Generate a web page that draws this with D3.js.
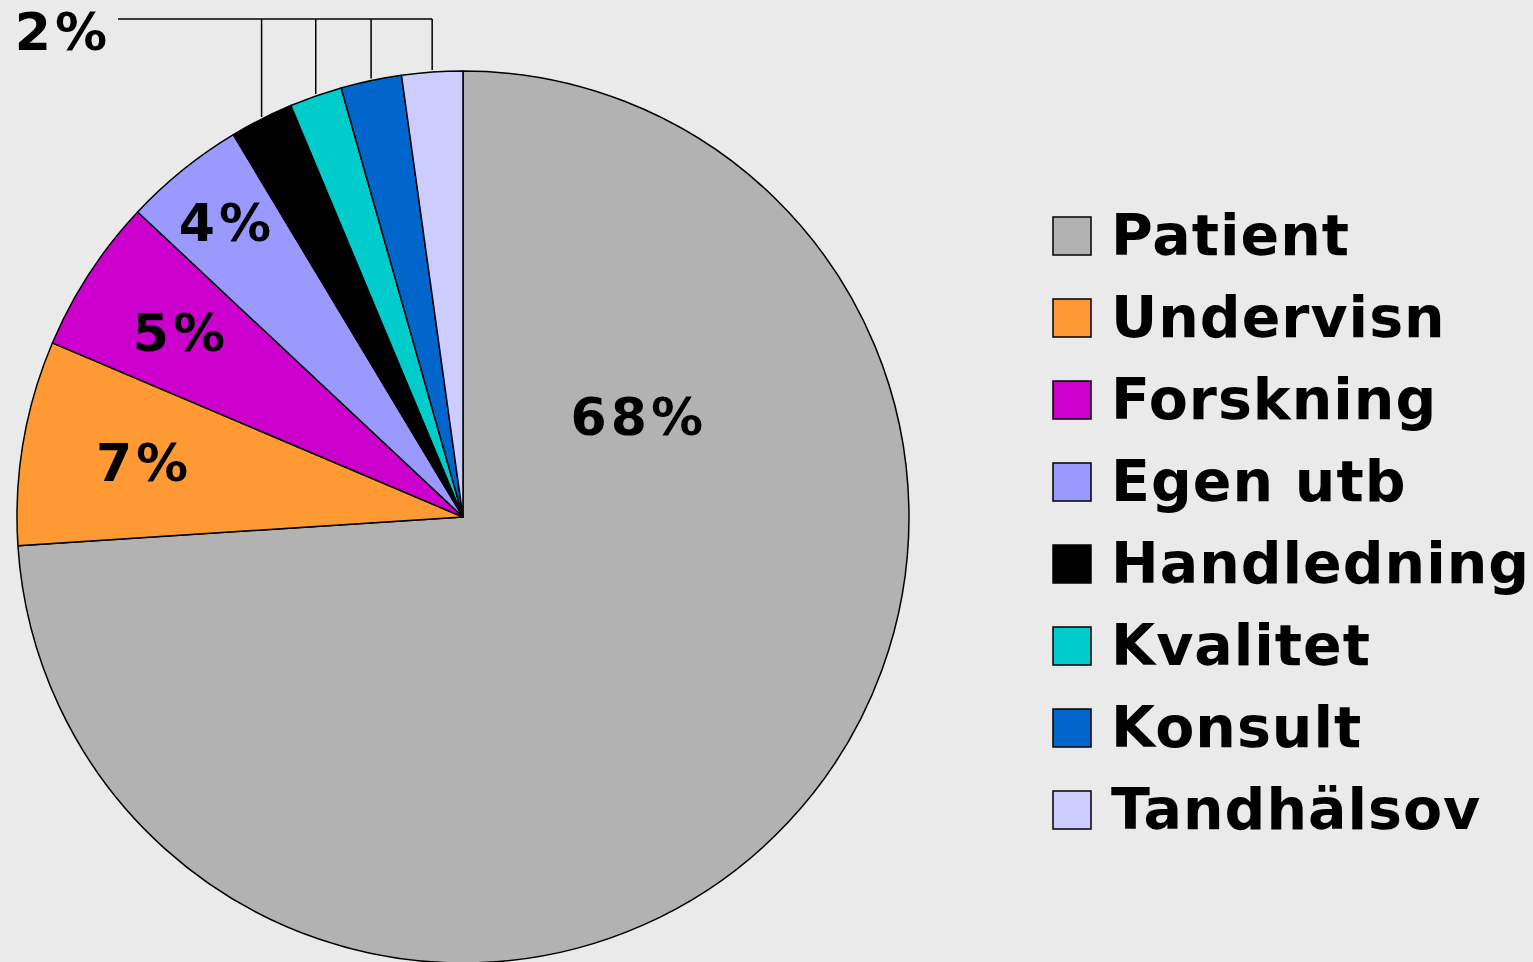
<!DOCTYPE html>
<html>
<head>
<meta charset="utf-8">
<script src="https://cdn.jsdelivr.net/npm/d3@7"></script>
<style>
  html, body { margin: 0; padding: 0; background: #eaeaea; }
  svg { display: block; }
  text { font-family: "DejaVu Sans", Verdana, sans-serif; font-weight: bold; fill: #000; }
</style>
</head>
<body>
<div id="chart"></div>
<script>
// categories and slice shares
var categories = ["Patient", "Undervisn", "Forskning", "Egen utb", "Handledning", "Kvalitet", "Konsult", "Tandhälsov"];
var shares = [73.9, 7.4, 5.6, 4.4, 2.3, 1.9, 2.2, 2.2];
var labels = ["68%", "7%", "5%", "4%", "2%", "2%", "2%", "2%"];
var colors = ["#b2b2b2", "#ff9933", "#cc00cc", "#9999ff", "#000000", "#00cccc", "#0066cc", "#ccccff"];

function init() {

    var width = 1533;
    var height = 962;
    var cx = 463, cy = 517, radius = 446;

    var svg = d3.select("#chart")
        .append("svg")
        .attr("width", width)
        .attr("height", height);

    var data = categories.map(function (c, i) {
        return { name: c, value: shares[i], label: labels[i], color: colors[i] };
    });

    var pie = d3.pie()
        .sort(null)
        .value(function (d) { return d.value; });

    var arc = d3.arc()
        .innerRadius(0)
        .outerRadius(radius);

    var arcs = pie(data);

    var g = svg.append("g")
        .attr("transform", "translate(" + cx + "," + cy + ")");

    g.selectAll("path")
        .data(arcs)
        .enter()
        .append("path")
        .attr("d", arc)
        .style("fill", function (d) { return d.data.color; })
        .style("stroke", "#000")
        .style("stroke-width", "1.5px")
        .style("stroke-linejoin", "round");

    // label placement: angle (deg, clockwise from top) and radius fraction
    var inside = [
        { i: 0, angle: 60, r: 0.45 },
        { i: 1, angle: null, r: 0.73 },
        { i: 2, angle: null, r: 0.76 },
        { i: 3, angle: null, r: 0.85 }
    ];

    inside.forEach(function (p) {
        var a = arcs[p.i];
        var ang = p.angle !== null ? p.angle * Math.PI / 180 : (a.startAngle + a.endAngle) / 2;
        var rr = radius * p.r;
        g.append("text")
            .attr("x", rr * Math.sin(ang) + 2)
            .attr("y", -rr * Math.cos(ang))
            .attr("dy", "0.36em")
            .attr("text-anchor", "middle")
            .style("font-size", "52px")
            .style("letter-spacing", "4px")
            .text(a.data.label);
    });

    // shared "2%" label for the four small slices, with leader lines
    var small = arcs.slice(4);
    var lineY = 19 - cy;
    var xs = small.map(function (a) {
        var ang = (a.startAngle + a.endAngle) / 2;
        return radius * Math.sin(ang);
    });

    g.append("line")
        .attr("x1", 118 - cx)
        .attr("x2", d3.max(xs))
        .attr("y1", lineY)
        .attr("y2", lineY)
        .style("stroke", "#000")
        .style("stroke-width", "1.5px");

    g.selectAll("line.leader")
        .data(xs)
        .enter()
        .append("line")
        .attr("class", "leader")
        .attr("x1", function (x) { return x; })
        .attr("x2", function (x) { return x; })
        .attr("y1", lineY)
        .attr("y2", function (x) { return -Math.sqrt(radius * radius - x * x) - 2; })
        .style("stroke", "#000")
        .style("stroke-width", "1.5px");

    g.append("text")
        .attr("x", 63 - cx)
        .attr("y", 50 - cy)
        .attr("text-anchor", "middle")
        .style("font-size", "52px")
        .style("letter-spacing", "4px")
        .text(small[0].data.label);

    // legend
    var legend = svg.append("g")
        .attr("transform", "translate(1053,255)");

    var row = legend.selectAll("g")
        .data(data)
        .enter()
        .append("g")
        .attr("transform", function (d, i) { return "translate(0," + (i * 82) + ")"; });

    row.append("rect")
        .attr("x", 0)
        .attr("y", -38)
        .attr("width", 38)
        .attr("height", 38)
        .style("fill", function (d) { return d.color; })
        .style("stroke", "#000")
        .style("stroke-width", "1.5px");

    row.append("text")
        .attr("x", 58)
        .attr("y", 0)
        .style("font-size", "57px")
        .style("letter-spacing", "1px")
        .text(function (d) { return d.name; });
}

window.onload = init;
</script>
</body>
</html>
